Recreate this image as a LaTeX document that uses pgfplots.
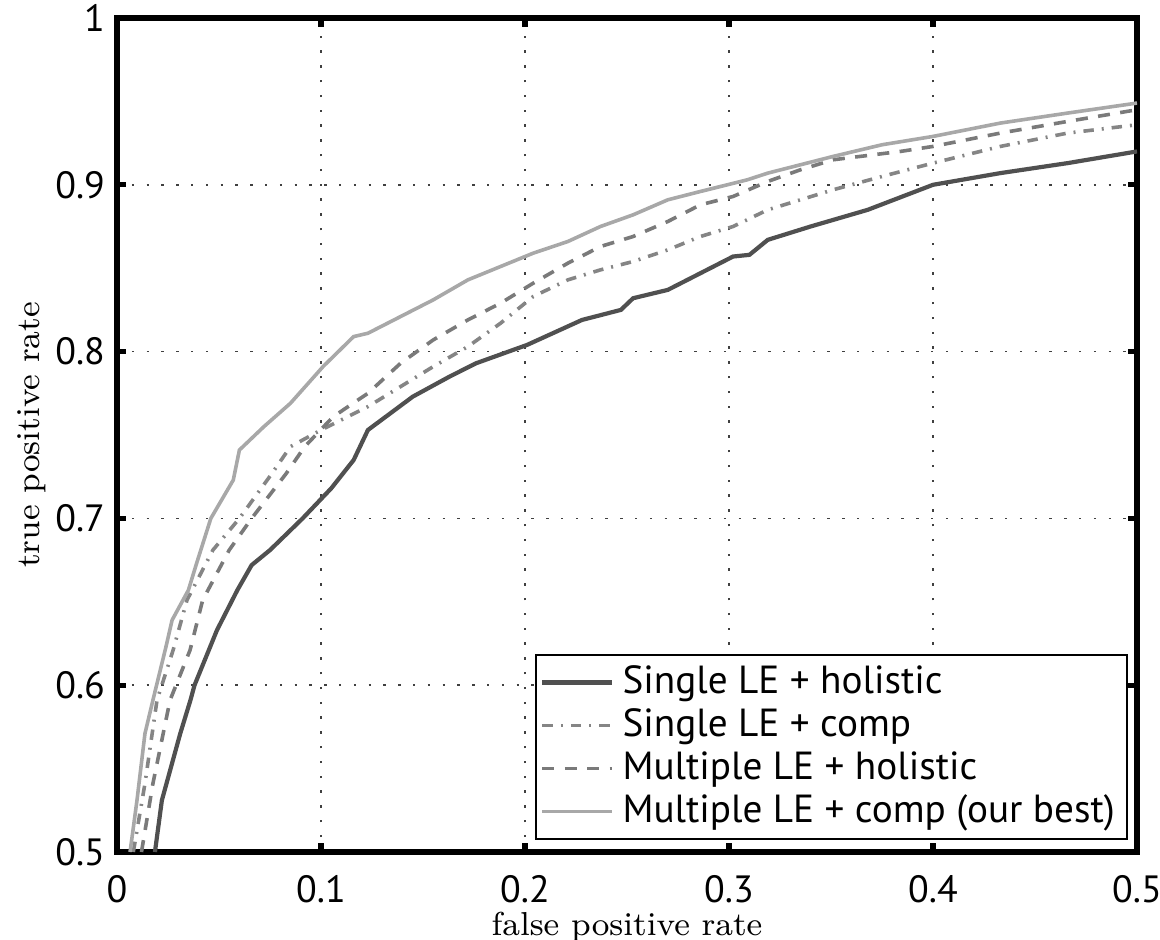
\documentclass[border=0pt]{standalone}
\usepackage{fontspec}
\usepackage{pgfplots}
\pgfplotsset{compat=1.18}
\newfontfamily\tickfont{PT Sans}
\definecolor{cdark}{HTML}{505050}
\definecolor{cdashdot}{HTML}{858585}
\definecolor{cdash}{HTML}{7A7A7A}
\definecolor{clight}{HTML}{A8A8A8}
\begin{document}
\begin{tikzpicture}
\begin{axis}[
  scale only axis,
  width=255pt, height=208.5pt,
  xmin=0, xmax=0.5, ymin=0.5, ymax=1,
  xtick={0,0.1,0.2,0.3,0.4,0.5},
  ytick={0.5,0.6,0.7,0.8,0.9,1},
  xticklabels={0,0.1,0.2,0.3,0.4,0.5},
  yticklabels={0.5,0.6,0.7,0.8,0.9,1},
  tick align=inside,
  major tick length=2.2pt,
  axis line style={line width=1.3pt},
  every tick/.style={black, line width=1.3pt},
  xmajorgrids, ymajorgrids,
  major grid style={black!75, line width=0.45pt, dash pattern=on 0.6pt off 3.1pt},
  ticklabel style={font=\tickfont\fontsize{9.5}{11}\selectfont},
  /pgf/number format/assume math mode=true,
  yticklabel style={xshift=0.5pt},
  xticklabel style={yshift=-2.4pt},
  xlabel={false positive rate},
  ylabel={true positive rate},
  label style={font=\fontsize{8.3}{10}\selectfont},
  xlabel style={at={(axis description cs:0.5,-0.090)}, anchor=center},
  ylabel style={at={(axis description cs:-0.0833,0.5)}, anchor=center},
  legend cell align=left,
  legend style={at={(1,0)}, anchor=south east, xshift=-2.3pt, yshift=3pt,
    draw=black, line width=0.5pt, font=\tickfont\fontsize{9.8}{11}\selectfont,
    inner xsep=1pt, inner ysep=0.6pt, row sep=-1.7pt},
  legend image code/.code={\draw[#1] (0pt,0pt) -- (17.5pt,0pt);},
]
\coordinate (sw) at (rel axis cs:0,0);
\coordinate (ne) at (rel axis cs:1,1);
\addplot[cdark, line width=1.05pt] coordinates {
(0.0186,0.500) (0.022,0.531) (0.031,0.571) (0.036,0.591) (0.038,0.600)
(0.049,0.633) (0.059,0.657) (0.066,0.672) (0.075,0.681) (0.091,0.700)
(0.105,0.718) (0.116,0.735) (0.123,0.753) (0.145,0.773) (0.163,0.785)
(0.176,0.793) (0.201,0.804) (0.228,0.819) (0.247,0.825) (0.253,0.832)
(0.270,0.837) (0.286,0.847) (0.302,0.857) (0.310,0.858) (0.319,0.867)
(0.340,0.875) (0.368,0.885) (0.400,0.900) (0.433,0.907) (0.466,0.913)
(0.500,0.920)
};
\addlegendentry{Single LE + holistic}
\addplot[cdashdot, line width=0.9pt, dash pattern=on 2.6pt off 2pt on 0.5pt off 2pt] coordinates {
(0.008,0.500) (0.0137,0.541) (0.0196,0.591) (0.0275,0.621) (0.0343,0.651)
(0.047,0.681) (0.060,0.700) (0.076,0.727) (0.085,0.743) (0.100,0.753)
(0.123,0.767) (0.139,0.779) (0.155,0.791) (0.172,0.803) (0.188,0.817)
(0.204,0.833) (0.221,0.843) (0.237,0.849) (0.253,0.854) (0.270,0.861)
(0.286,0.869) (0.302,0.875) (0.319,0.885) (0.351,0.897) (0.375,0.905)
(0.400,0.913) (0.433,0.923) (0.466,0.931) (0.500,0.936)
};
\addlegendentry{Single LE + comp}
\addplot[cdash, line width=0.9pt, dash pattern=on 3pt off 2.6pt] coordinates {
(0.012,0.500) (0.0176,0.541) (0.026,0.591) (0.0358,0.621) (0.042,0.651)
(0.055,0.681) (0.066,0.700) (0.083,0.727) (0.092,0.743) (0.106,0.761)
(0.123,0.775) (0.139,0.793) (0.155,0.807) (0.172,0.819) (0.188,0.829)
(0.204,0.841) (0.221,0.853) (0.237,0.863) (0.253,0.869) (0.270,0.878)
(0.286,0.888) (0.302,0.893) (0.319,0.902) (0.335,0.909) (0.351,0.915)
(0.384,0.920) (0.400,0.923) (0.433,0.931) (0.466,0.938) (0.500,0.945)
};
\addlegendentry{Multiple LE + holistic}
\addplot[clight, line width=0.9pt] coordinates {
(0.0064,0.500) (0.0098,0.531) (0.0137,0.571) (0.018,0.593) (0.024,0.623)
(0.027,0.639) (0.035,0.657) (0.039,0.673) (0.046,0.700) (0.057,0.723)
(0.060,0.741) (0.072,0.755) (0.085,0.769) (0.101,0.791) (0.116,0.809)
(0.123,0.811) (0.139,0.821) (0.155,0.831) (0.172,0.843) (0.188,0.851)
(0.204,0.859) (0.221,0.866) (0.237,0.875) (0.253,0.882) (0.270,0.891)
(0.286,0.896) (0.309,0.903) (0.319,0.907) (0.351,0.917) (0.375,0.924)
(0.400,0.929) (0.433,0.937) (0.466,0.943) (0.500,0.949)
};
\addlegendentry{Multiple LE + comp (our best)}
\end{axis}
\pgfresetboundingbox
\path ([xshift=-29.25pt,yshift=-21.75pt]sw) rectangle ([xshift=5.75pt,yshift=4.5pt]ne);
\end{tikzpicture}
\end{document}
